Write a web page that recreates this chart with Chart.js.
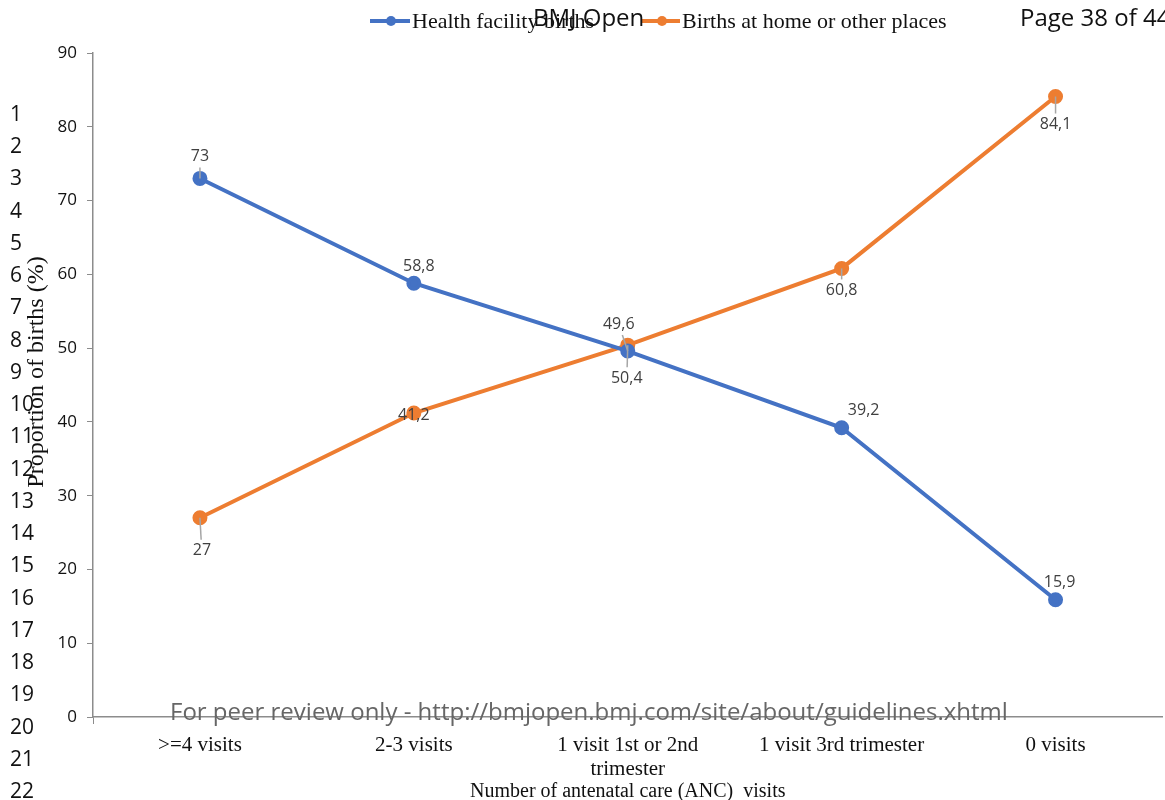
<!DOCTYPE html>
<html>
<head>
<meta charset="utf-8">
<script src="https://cdn.jsdelivr.net/npm/chart.js@4.4.1/dist/chart.umd.min.js"></script>
<style>
  body { margin: 0; background: #fff; }
  #pagina { position: relative; width: 1165px; height: 800px; overflow: hidden; }
  #caixaGrafico { position: absolute; left: 0; top: 0; width: 1172px; height: 800px; }
  .txt { position: absolute; white-space: nowrap; pointer-events: none; }
  #numeros { position: absolute; left: 10px; top: 0; font-family: "Open Sans", sans-serif; font-size: 21px; color: #111; }
  #numeros div { position: absolute; left: 0; line-height: 24px; }
</style>
</head>
<body>
<div id="pagina">
  <div id="caixaGrafico"><canvas id="graficoAnc"></canvas></div>
  <div class="txt" style="left:533px; top:0px; font-family:'Open Sans',sans-serif; font-size:24px; color:#111;">BMJ Open</div>
  <div class="txt" style="left:1020px; top:0px; font-family:'Open Sans',sans-serif; font-size:24px; color:#111;">Page 38 of 44</div>
  <div class="txt" style="left:170px; top:694px; font-family:'Open Sans',sans-serif; font-size:24px; color:#666;">For peer review only - http://bmjopen.bmj.com/site/about/guidelines.xhtml</div>
  <div id="numeros"></div>
</div>
<script>
const categorias = [">=4 visits", "2-3 visits", ["1 visit 1st or 2nd", "trimester"], "1 visit 3rd trimester", "0 visits"]
const partoUnidade = [73, 58.8, 49.6, 39.2, 15.9]//Health facility births
const partoCasa = [27, 41.2, 50.4, 60.8, 84.1]//Births at home or other places
const rotulosUnidade = ["73", "58,8", "49,6", "39,2", "15,9"]
const rotulosCasa = ["27", "41,2", "50,4", "60,8", "84,1"]
const ticksY = [0, 10, 20, 30, 40, 50, 60, 70, 80, 90]

//posicao dos rotulos em relacao ao ponto [dx, dy, linha guia]
const posUnidade = [[0, -22, true], [5, -17, false], [-9, -27, true], [22, -17, false], [4, -17, false]]
const posCasa = [[2, 33, true], [0, 2, false], [-1, 33, true], [0, 22, true], [0, 28, true]]

const azul = "#4472C4"
const laranja = "#ED7D31"

//numeros de linha da pagina
const numeros = document.getElementById("numeros")
for (let i = 1; i <= 22; i++) {
  let linha = document.createElement("div")
  linha.textContent = i
  linha.style.top = (101 + (i - 1) * 32.24) + "px"
  numeros.appendChild(linha)
}

//desenha os valores em cima/baixo dos pontos
const rotulosPlugin = {
  id: "rotulos",
  afterDatasetsDraw(chart) {
    const ctx = chart.ctx
    const listas = [[rotulosUnidade, posUnidade], [rotulosCasa, posCasa]]
    ctx.save()
    ctx.font = "16px 'Open Sans', sans-serif"
    ctx.textAlign = "center"
    ctx.textBaseline = "middle"
    listas.forEach(([textos, pos], d) => {
      chart.getDatasetMeta(d).data.forEach((ponto, i) => {
        let [dx, dy, guia] = pos[i]
        if (guia) {
          ctx.strokeStyle = "#a6a6a6"
          ctx.lineWidth = 1.5
          ctx.beginPath()
          ctx.moveTo(ponto.x, ponto.y)
          ctx.lineTo(ponto.x + dx * 0.6, ponto.y + dy - Math.sign(dy) * 11)
          ctx.stroke()
        }
        ctx.fillStyle = "#404040"
        ctx.fillText(textos[i], ponto.x + dx, ponto.y + dy)
      })
    })
    ctx.restore()
  }
}

//legenda no topo e titulo do eixo y
const extrasPlugin = {
  id: "extras",
  afterDraw(chart) {
    const ctx = chart.ctx
    ctx.save()
    const itens = [[azul, 370, 412, "Health facility births"], [laranja, 642, 682, "Births at home or other places"]]
    itens.forEach(([cor, x0, x1, texto]) => {
      ctx.strokeStyle = cor
      ctx.lineWidth = 4
      ctx.beginPath()
      ctx.moveTo(x0, 21)
      ctx.lineTo(x1 - 2, 21)
      ctx.stroke()
      ctx.fillStyle = cor
      ctx.beginPath()
      ctx.arc((x0 + x1) / 2, 21, 5, 0, Math.PI * 2)
      ctx.fill()
      ctx.fillStyle = "#111"
      ctx.font = "22px 'Liberation Serif', serif"
      ctx.textBaseline = "middle"
      ctx.textAlign = "left"
      ctx.fillText(texto, x1, 22)
    })
    ctx.translate(37, 372)
    ctx.rotate(-Math.PI / 2)
    ctx.textAlign = "center"
    ctx.textBaseline = "middle"
    ctx.font = "24px 'Liberation Serif', serif"
    ctx.fillText("Proportion of births (%)", 0, 0)
    ctx.restore()
  }
}

const graficoAnc = new Chart(document.getElementById("graficoAnc"), {
  type: "line",
  data: {
    labels: categorias,
    datasets: [{
      label: "Health facility births",
      data: partoUnidade,
      borderColor: azul,
      backgroundColor: azul,
      borderWidth: 4,
      pointRadius: 5.5,
      tension: 0
    }, {
      label: "Births at home or other places",
      data: partoCasa,
      borderColor: laranja,
      backgroundColor: laranja,
      borderWidth: 4,
      pointRadius: 5.5,
      tension: 0
    }]
  },
  options: {
    responsive: true,
    maintainAspectRatio: false,
    animation: false,
    layout: { padding: { top: 53, right: 2, left: 0, bottom: 0 } },
    plugins: { legend: { display: false }, tooltip: { enabled: false } },
    scales: {
      x: {
        offset: true,
        grid: {
          offset: true,
          drawOnChartArea: false,
          tickLength: 7,
          color: ctx => (ctx.index === 0 || ctx.index === categorias.length) ? "#8c8c8c" : "rgba(0,0,0,0)"
        },
        border: { color: "#8c8c8c", width: 1.5 },
        ticks: { color: "#111", font: { family: "'Liberation Serif', serif", size: 21, lineHeight: 1.15 }, padding: 9, maxRotation: 0 },
        title: {
          display: true,
          text: "Number of antenatal care (ANC)  visits",
          color: "#111",
          font: { family: "'Liberation Serif', serif", size: 20 },
          padding: { top: 0, bottom: -4 }
        },
        afterFit: escala => { escala.height = 83 }
      },
      y: {
        min: 0,
        max: 90,
        afterBuildTicks: escala => { escala.ticks = ticksY.map(v => ({ value: v })) },
        grid: { drawOnChartArea: false, tickLength: 6, color: "#8c8c8c" },
        border: { color: "#8c8c8c", width: 1.5 },
        ticks: { color: "#111", font: { family: "'Open Sans', sans-serif", size: 17 }, padding: 10 },
        afterFit: escala => { escala.width = 93 }
      }
    }
  },
  plugins: [rotulosPlugin, extrasPlugin]
})
</script>
</body>
</html>
